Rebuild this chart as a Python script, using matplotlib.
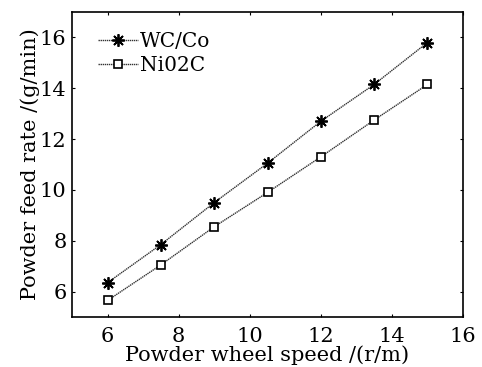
import matplotlib
matplotlib.use("Agg")
import matplotlib.pyplot as plt

# datos
velocidad = [6, 7.5, 9, 10.5, 12, 13.5, 15]
wc_co = [6.35, 7.85, 9.5, 11.05, 12.7, 14.15, 15.8]
ni02c = [5.65, 7.05, 8.55, 9.9, 11.3, 12.75, 14.15]

plt.rcParams['font.family'] = ['DejaVu Serif']
plt.rcParams['mathtext.fontset'] = 'dejavuserif'

fig = plt.figure(figsize=(4.82, 3.67), dpi=100)
ax = fig.add_axes([72/482, 1 - 317/367, 391/482, 305/367])

ax.plot(velocidad, wc_co, color='#333333', lw=1.0, ls=(0, (1, 0.5)),
        marker=(8, 2, 0), ms=9, mec='black', mfc='black', mew=1.3, label='WC/Co')
ax.plot(velocidad, ni02c, color='#333333', lw=1.0, ls=(0, (1, 0.5)),
        marker='s', ms=6, mec='black', mfc='white', mew=1.2, label='Ni02C')

ax.set_xlim(5, 16)
ax.set_ylim(5, 17)
ax.set_xticks([6, 8, 10, 12, 14, 16])
ax.set_yticks([6, 8, 10, 12, 14, 16])
ax.tick_params(direction='in', top=True, right=True, length=2.5, width=0.8,
               labelsize=15)
ax.tick_params(axis='x', pad=7)
ax.tick_params(axis='y', pad=4)
for s in ax.spines.values():
    s.set_linewidth(1.2)

ax.set_xlabel('Powder wheel speed /(r/m)', fontsize=15, labelpad=0)
ax.set_ylabel('Powder feed rate /(g/min)', fontsize=15, labelpad=0)

ax.legend(loc='upper left', frameon=False, fontsize=14.5, handlelength=2.0,
          handletextpad=0.1, borderaxespad=0.3, labelspacing=0.25,
          bbox_to_anchor=(0.03, 0.98))

fig.savefig('out.png', dpi=100)
